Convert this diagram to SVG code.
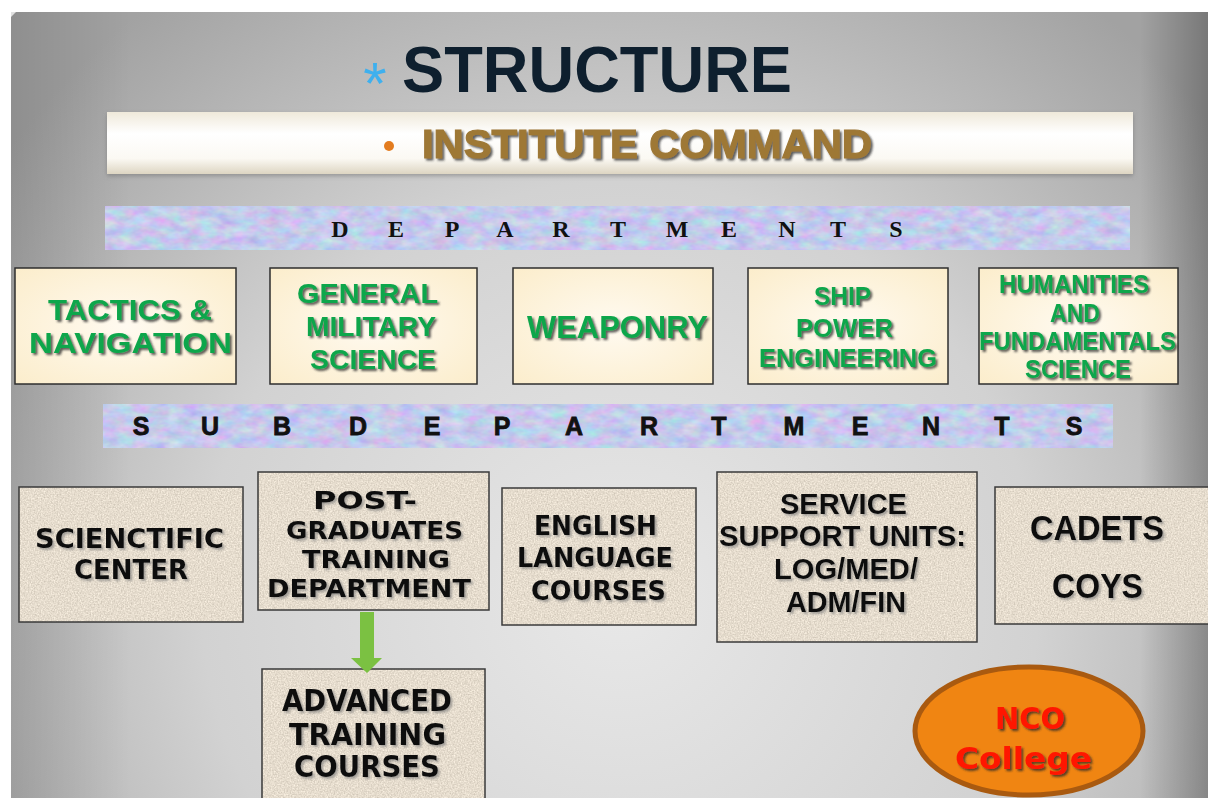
<svg xmlns="http://www.w3.org/2000/svg" width="1208" height="798" viewBox="0 0 1208 798">
<defs>
  <radialGradient id="bg" gradientUnits="userSpaceOnUse" cx="620" cy="600" r="760">
    <stop offset="0" stop-color="#e8e8e8"/>
    <stop offset="0.55" stop-color="#d2d2d2"/>
    <stop offset="1" stop-color="#a2a2a2"/>
  </radialGradient>
  <linearGradient id="rightShade" x1="0" y1="0" x2="1" y2="0">
    <stop offset="0" stop-color="#000" stop-opacity="0"/>
    <stop offset="1" stop-color="#000" stop-opacity="0.26"/>
  </linearGradient>
  <linearGradient id="leftShade" x1="0" y1="0" x2="1" y2="0">
    <stop offset="0" stop-color="#000" stop-opacity="0.12"/>
    <stop offset="1" stop-color="#000" stop-opacity="0"/>
  </linearGradient>
  <linearGradient id="cmdBar" x1="0" y1="0" x2="0" y2="1">
    <stop offset="0" stop-color="#efe9da"/>
    <stop offset="0.35" stop-color="#ffffff"/>
    <stop offset="0.75" stop-color="#fbf9f3"/>
    <stop offset="1" stop-color="#ddd5c2"/>
  </linearGradient>
  <radialGradient id="cream" cx="0.5" cy="0.5" r="0.75">
    <stop offset="0" stop-color="#fffaf0"/>
    <stop offset="1" stop-color="#fbecc9"/>
  </radialGradient>
  <filter id="marble" x="0" y="0" width="100%" height="100%" color-interpolation-filters="sRGB">
    <feTurbulence type="fractalNoise" baseFrequency="0.06 0.11" numOctaves="3" seed="7" result="n"/>
    <feColorMatrix in="n" type="matrix" values="0.3 -0.08 0 0 0.66  0 0.3 -0.08 0 0.68  0 0 0.15 0 0.85  0 0 0 0 1" result="c"/>
    <feComposite in="c" in2="SourceAlpha" operator="in"/>
  </filter>
  <filter id="speckle" x="0" y="0" width="100%" height="100%" color-interpolation-filters="sRGB">
    <feTurbulence type="fractalNoise" baseFrequency="0.7" numOctaves="2" seed="3" result="n"/>
    <feColorMatrix in="n" type="matrix" values="0.25 0 0 0 0.775  0.25 0 0 0 0.738  0.25 0 0 0 0.68  0 0 0 0 1" result="c"/>
    <feComposite in="c" in2="SourceAlpha" operator="in"/>
  </filter>
  <filter id="shadowDark" x="-10%" y="-20%" width="120%" height="150%">
    <feDropShadow dx="2" dy="2" stdDeviation="0.8" flood-color="#2a2a2a" flood-opacity="0.75"/>
  </filter>
  <filter id="shadowSoft" x="-10%" y="-20%" width="120%" height="150%">
    <feDropShadow dx="2" dy="2" stdDeviation="1" flood-color="#777" flood-opacity="0.6"/>
  </filter>
  <filter id="barShadow" x="-5%" y="-20%" width="110%" height="160%">
    <feDropShadow dx="0" dy="2" stdDeviation="2" flood-color="#666" flood-opacity="0.5"/>
  </filter>
  <style>
    .dept { fill: url(#cream); stroke: #2e2e2e; stroke-width: 1.5; }
    .subfill { filter: url(#speckle); fill: #000; }
    .subline { fill: none; stroke: #3a3a3a; stroke-width: 1.5; }
    .g { font-family: "Liberation Sans", Arial, sans-serif; font-weight: bold; fill: #11a64c; filter: url(#shadowDark); }
    .k { font-family: "DejaVu Sans", Verdana, sans-serif; font-weight: bold; fill: #0c0c0c; filter: url(#shadowSoft); }
    .ka { font-family: "Liberation Sans", Arial, sans-serif; font-weight: bold; fill: #0c0c0c; filter: url(#shadowSoft); }
    .serifL { font-family: "Liberation Serif", "Times New Roman", serif; font-weight: bold; font-size: 24px; fill: #111; text-anchor: middle; }
    .sansL { font-family: "Liberation Sans", Arial, sans-serif; font-weight: bold; font-size: 25px; fill: #111; text-anchor: middle; stroke: #111; stroke-width: 0.8; }
  </style>
</defs>

<!-- slide background -->
<rect x="0" y="0" width="1208" height="798" fill="#ffffff"/>
<path d="M16 12 H1208 V798 H11 V17 Z" fill="url(#bg)"/>
<rect x="1140" y="12" width="68" height="786" fill="url(#rightShade)"/>
<rect x="11" y="12" width="120" height="786" fill="url(#leftShade)"/>

<g id="title">
  <text x="375" y="104" font-family="Liberation Sans, Arial, sans-serif" font-size="60" fill="#3fb0ee" text-anchor="middle">*</text>
  <text x="402" y="92" font-family="Liberation Sans, Arial, sans-serif" font-size="65" font-weight="bold" fill="#0e1f2e" textLength="390" lengthAdjust="spacingAndGlyphs">STRUCTURE</text>
</g>

<g id="institute-command">
  <rect x="107" y="112" width="1026" height="62" fill="url(#cmdBar)" filter="url(#barShadow)"/>
  <circle cx="389" cy="146" r="5" fill="#e37c1f"/>
  <text x="422" y="158" font-family="Liberation Sans, Arial, sans-serif" font-size="40" font-weight="bold" fill="#9e7836" stroke="#9e7836" stroke-width="1.2" textLength="450" lengthAdjust="spacingAndGlyphs" filter="url(#shadowDark)">INSTITUTE COMMAND</text>
</g>

<g id="departments-banner">
  <rect x="105" y="206" width="1025" height="44" fill="#c6cfee" filter="url(#marble)"/>
  <text class="serifL" y="237"><tspan x="340">D</tspan><tspan x="396">E</tspan><tspan x="452">P</tspan><tspan x="505">A</tspan><tspan x="561">R</tspan><tspan x="618">T</tspan><tspan x="677">M</tspan><tspan x="729">E</tspan><tspan x="787">N</tspan><tspan x="838">T</tspan><tspan x="896">S</tspan></text>
</g>

<g id="dept-tactics">
  <rect class="dept" x="15" y="268" width="221" height="116"/>
  <text class="g" font-size="29" x="48" y="320" textLength="164" lengthAdjust="spacingAndGlyphs">TACTICS &amp;</text>
  <text class="g" font-size="29" x="29" y="353" textLength="203" lengthAdjust="spacingAndGlyphs">NAVIGATION</text>
</g>
<g id="dept-general">
  <rect class="dept" x="270" y="268" width="207" height="116"/>
  <text class="g" font-size="28" x="297" y="303" textLength="141" lengthAdjust="spacingAndGlyphs">GENERAL</text>
  <text class="g" font-size="28" x="306" y="336" textLength="130" lengthAdjust="spacingAndGlyphs">MILITARY</text>
  <text class="g" font-size="28" x="310" y="369" textLength="126" lengthAdjust="spacingAndGlyphs">SCIENCE</text>
</g>
<g id="dept-weaponry">
  <rect class="dept" x="513" y="268" width="200" height="116"/>
  <text class="g" font-size="31" x="527" y="338" textLength="181" lengthAdjust="spacingAndGlyphs">WEAPONRY</text>
</g>
<g id="dept-ship">
  <rect class="dept" x="748" y="268" width="200" height="116"/>
  <text class="g" font-size="26" x="814" y="305" textLength="57" lengthAdjust="spacingAndGlyphs">SHIP</text>
  <text class="g" font-size="26" x="796" y="337" textLength="97" lengthAdjust="spacingAndGlyphs">POWER</text>
  <text class="g" font-size="26" x="759" y="367" textLength="178" lengthAdjust="spacingAndGlyphs">ENGINEERING</text>
</g>
<g id="dept-humanities">
  <rect class="dept" x="979" y="268" width="199" height="116"/>
  <text class="g" font-size="25" x="999" y="293" textLength="150" lengthAdjust="spacingAndGlyphs">HUMANITIES</text>
  <text class="g" font-size="25" x="1050" y="322" textLength="50" lengthAdjust="spacingAndGlyphs">AND</text>
  <text class="g" font-size="25" x="979" y="350" textLength="197" lengthAdjust="spacingAndGlyphs">FUNDAMENTALS</text>
  <text class="g" font-size="25" x="1025" y="378" textLength="106" lengthAdjust="spacingAndGlyphs">SCIENCE</text>
</g>

<g id="subdepartments-banner">
  <rect x="103" y="404" width="1010" height="44" fill="#c6cfee" filter="url(#marble)"/>
  <text class="sansL" y="435"><tspan x="141">S</tspan><tspan x="210">U</tspan><tspan x="282">B</tspan><tspan x="358">D</tspan><tspan x="432">E</tspan><tspan x="502">P</tspan><tspan x="574">A</tspan><tspan x="649">R</tspan><tspan x="719">T</tspan><tspan x="794">M</tspan><tspan x="860">E</tspan><tspan x="931">N</tspan><tspan x="1002">T</tspan><tspan x="1074">S</tspan></text>
</g>

<g id="sub-scientific">
  <rect class="subfill" x="19" y="487" width="224" height="135"/>
  <rect class="subline" x="19" y="487" width="224" height="135"/>
  <text class="k" font-size="27" x="35" y="548" textLength="189" lengthAdjust="spacingAndGlyphs">SCIENCTIFIC</text>
  <text class="k" font-size="27" x="74" y="579" textLength="114" lengthAdjust="spacingAndGlyphs">CENTER</text>
</g>
<g id="sub-postgraduates">
  <rect class="subfill" x="258" y="472" width="231" height="138"/>
  <rect class="subline" x="258" y="472" width="231" height="138"/>
  <text class="k" font-size="25" x="313" y="509" textLength="104" lengthAdjust="spacingAndGlyphs">POST-</text>
  <text class="k" font-size="25" x="286" y="539" textLength="177" lengthAdjust="spacingAndGlyphs">GRADUATES</text>
  <text class="k" font-size="25" x="302" y="568" textLength="148" lengthAdjust="spacingAndGlyphs">TRAINING</text>
  <text class="k" font-size="25" x="267" y="597" textLength="204" lengthAdjust="spacingAndGlyphs">DEPARTMENT</text>
</g>
<g id="sub-english">
  <rect class="subfill" x="502" y="488" width="194" height="137"/>
  <rect class="subline" x="502" y="488" width="194" height="137"/>
  <text class="k" font-size="26" x="534" y="535" textLength="123" lengthAdjust="spacingAndGlyphs">ENGLISH</text>
  <text class="k" font-size="26" x="517" y="567" textLength="156" lengthAdjust="spacingAndGlyphs">LANGUAGE</text>
  <text class="k" font-size="26" x="531" y="600" textLength="135" lengthAdjust="spacingAndGlyphs">COURSES</text>
</g>
<g id="sub-service">
  <rect class="subfill" x="717" y="472" width="260" height="170"/>
  <rect class="subline" x="717" y="472" width="260" height="170"/>
  <text class="ka" font-size="29" x="780" y="514" textLength="127" lengthAdjust="spacingAndGlyphs">SERVICE</text>
  <text class="ka" font-size="29" x="719" y="546" textLength="247" lengthAdjust="spacingAndGlyphs">SUPPORT UNITS:</text>
  <text class="ka" font-size="29" x="774" y="579" textLength="144" lengthAdjust="spacingAndGlyphs">LOG/MED/</text>
  <text class="ka" font-size="29" x="786" y="612" textLength="120" lengthAdjust="spacingAndGlyphs">ADM/FIN</text>
</g>
<g id="sub-cadets">
  <rect class="subfill" x="995" y="487" width="214" height="137"/>
  <rect class="subline" x="995" y="487" width="214" height="137"/>
  <text class="ka" font-size="35" x="1030" y="540" textLength="134" lengthAdjust="spacingAndGlyphs">CADETS</text>
  <text class="ka" font-size="35" x="1052" y="598" textLength="91" lengthAdjust="spacingAndGlyphs">COYS</text>
</g>
<g id="sub-advanced">
  <rect class="subfill" x="262" y="669" width="223" height="135"/>
  <rect class="subline" x="262" y="669" width="223" height="135"/>
  <text class="k" font-size="30" x="282" y="711" textLength="170" lengthAdjust="spacingAndGlyphs">ADVANCED</text>
  <text class="k" font-size="30" x="289" y="745" textLength="157" lengthAdjust="spacingAndGlyphs">TRAINING</text>
  <text class="k" font-size="30" x="294" y="777" textLength="146" lengthAdjust="spacingAndGlyphs">COURSES</text>
</g>

<g id="connectors">
  <path d="M360 612 H374 V658 H382 L367 673 L351 658 H360 Z" fill="#7bc142"/>
</g>

<g id="nco-college">
  <ellipse cx="1029" cy="731" rx="114" ry="64" fill="#f08512" stroke="#a95a10" stroke-width="5"/>
  <text font-family="DejaVu Sans, Verdana, sans-serif" font-weight="bold" font-size="31" fill="#ff1500" filter="url(#shadowDark)" x="995" y="729" textLength="70" lengthAdjust="spacingAndGlyphs">NCO</text>
  <text font-family="DejaVu Sans, Verdana, sans-serif" font-weight="bold" font-size="31" fill="#ff1500" filter="url(#shadowDark)" x="955" y="769" textLength="137" lengthAdjust="spacingAndGlyphs">College</text>
</g>
</svg>
